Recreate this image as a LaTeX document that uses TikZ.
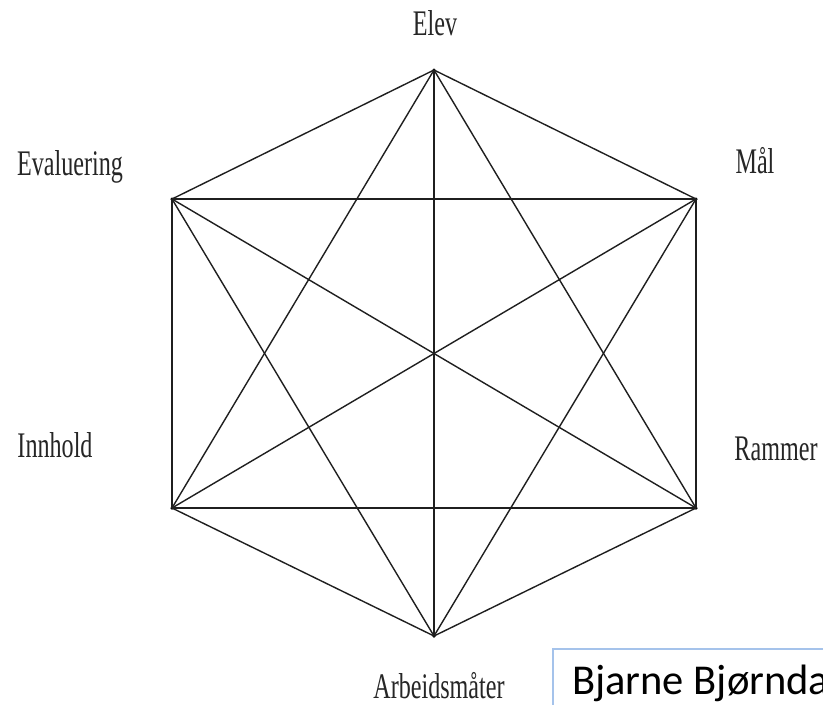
\documentclass[tikz,border=0pt]{standalone}
\usepackage{fontspec}
\newfontfamily\labfont[FakeStretch=0.67]{Liberation Serif}
\newfontfamily\boxfont{Carlito}
\definecolor{boxblue}{RGB}{165,195,235}
\begin{document}
\begin{tikzpicture}[x=1pt,y=-1pt,
  edge/.style={line width=1.4pt,draw=black!88},
  vlabel/.style={anchor=base,inner sep=0pt,text depth=0pt,font=\labfont\fontsize{36}{40}\selectfont,text=black!85},
  vdot/.style={circle,fill=black,inner sep=0pt,minimum size=3.5pt}]
\useasboundingbox (0,0) rectangle (823,705);
\fill[white] (0,0) rectangle (823,705);
% vertices
\node[vdot] (T)  at (434,70) {};
\node[vdot] (UL) at (172,199) {};
\node[vdot] (UR) at (696,199) {};
\node[vdot] (LL) at (172,508) {};
\node[vdot] (LR) at (696,508) {};
\node[vdot] (B)  at (434,636) {};
\node[vdot,minimum size=2.5pt] (C) at (434,353) {};
% edges (complete graph)
\foreach \a/\b in {T/UL,T/UR,UR/LR,LR/B,B/LL,LL/UL,UL/UR,LL/LR,T/B,T/LL,T/LR,B/UL,B/UR,UL/LR,UR/LL}
  \draw[edge] (\a.center) -- (\b.center);
% labels
\node[vlabel] (lElev) at (435,35) {Elev};
\node[vlabel] (lEval) at (70,175) {Evaluering};
\node[vlabel] (lMal) at (755,173) {Mål};
\node[vlabel] (lInn) at (55,457) {Innhold};
\node[vlabel] (lRam) at (776,460) {Rammer};
\node[vlabel] (lArb) at (439,698) {Arbeidsmåter};
% text box
\draw[boxblue,line width=1.2pt,fill=white] (553,649) rectangle (840,720);
\node[anchor=base west,inner sep=0pt,font=\boxfont\fontsize{42.5}{46}\selectfont] (name) at (572,694) {Bjarne Bjørndal};
\end{tikzpicture}
\end{document}
